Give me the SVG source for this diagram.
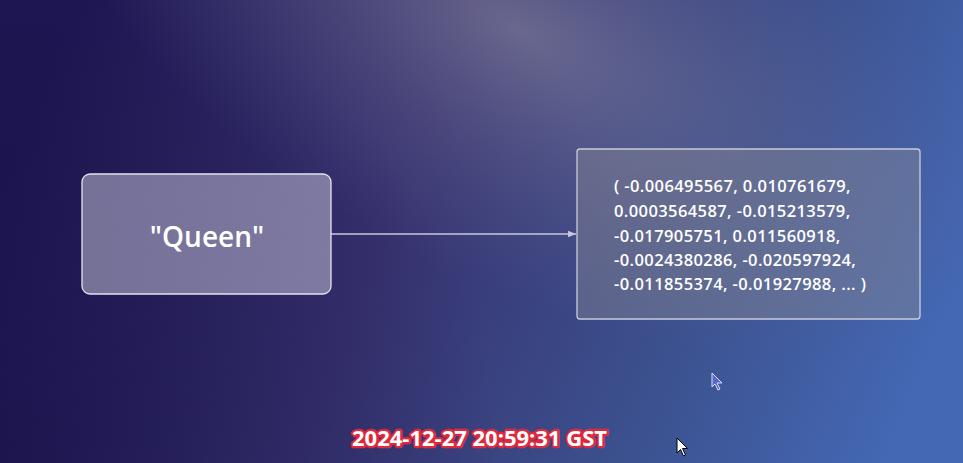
<svg xmlns="http://www.w3.org/2000/svg" width="963" height="463" viewBox="0 0 963 463">
<defs>
<linearGradient id="bg" x1="0" y1="0.4" x2="1" y2="0.6">
<stop offset="0" stop-color="#1e1652"/>
<stop offset="0.4" stop-color="#37326f"/>
<stop offset="0.75" stop-color="#3c5290"/>
<stop offset="1" stop-color="#4468b4"/>
</linearGradient>
<radialGradient id="glow" cx="0" cy="0" r="1" gradientUnits="userSpaceOnUse" gradientTransform="translate(520 30) rotate(28) scale(520 250)">
<stop offset="0" stop-color="#8a88a0" stop-opacity="0.6"/>
<stop offset="0.55" stop-color="#6c6a92" stop-opacity="0.3"/>
<stop offset="1" stop-color="#5a5a90" stop-opacity="0"/>
</radialGradient>
<radialGradient id="dark" cx="0" cy="463" r="500" gradientUnits="userSpaceOnUse">
<stop offset="0" stop-color="#160f46" stop-opacity="0.6"/>
<stop offset="1" stop-color="#160f46" stop-opacity="0"/>
</radialGradient>
<marker id="ah" viewBox="0 0 10 10" refX="10" refY="5" markerWidth="8" markerHeight="8" markerUnits="userSpaceOnUse" orient="auto">
<path d="M0,1 L10,5 L0,9 Z" fill="#c8c8d8"/>
</marker>
<style>
.node{fill:#d4d0e2;fill-opacity:0.48;stroke:#e4e4ee;stroke-width:1.3}
.vec{fill:#8c8c94;fill-opacity:0.4;stroke:#c8ccdc;stroke-width:1.3}
.lbl{font-family:"Open Sans","Lato",sans-serif;font-weight:600;fill:#ffffff}
.num{font-family:"Open Sans","Lato",sans-serif;font-size:16.5px;font-weight:600;letter-spacing:0.4px;fill:#ffffff}
.ts{font-family:"Open Sans","Noto Sans",sans-serif;font-size:22px;font-weight:700;fill:#ffffff;stroke:#e0283c;stroke-width:4.5;paint-order:stroke;stroke-linejoin:round}
</style>
</defs>
<rect width="963" height="463" fill="url(#bg)"/>
<rect width="963" height="463" fill="url(#dark)"/>
<rect width="963" height="463" fill="url(#glow)"/>
<g id="connectors">
<line x1="331" y1="234" x2="576" y2="234" stroke="#c8c8d8" stroke-width="1.3" marker-end="url(#ah)"/>
</g>
<g id="node-queen">
<rect class="node" x="82" y="174" width="249" height="120" rx="8"/>
<text class="lbl" x="207" y="247" font-size="28" text-anchor="middle">"Queen"</text>
</g>
<g id="node-vector">
<rect class="vec" x="577" y="149" width="343" height="170" rx="3"/>
<text class="num" x="614" y="192">( -0.006495567, 0.010761679,</text>
<text class="num" x="614" y="217">0.0003564587, -0.015213579,</text>
<text class="num" x="614" y="242">-0.017905751, 0.011560918,</text>
<text class="num" x="614" y="266">-0.0024380286, -0.020597924,</text>
<text class="num" x="614" y="290">-0.011855374, -0.01927988, ... )</text>
</g>
<text class="ts" x="352" y="446">2024-12-27 20:59:31 GST</text>
<path d="M712,373 L712,387 L715,384 L718,390 L720,389 L717,383 L722,383 Z" fill="#5a66c8" stroke="#d8dcf0" stroke-width="1"/>
<path d="M677,438 L677,453 L680.5,449.5 L683.5,456 L685.5,455 L682.5,448.5 L687.5,448.5 Z" fill="#ffffff" stroke="#000000" stroke-width="1"/>
</svg>
